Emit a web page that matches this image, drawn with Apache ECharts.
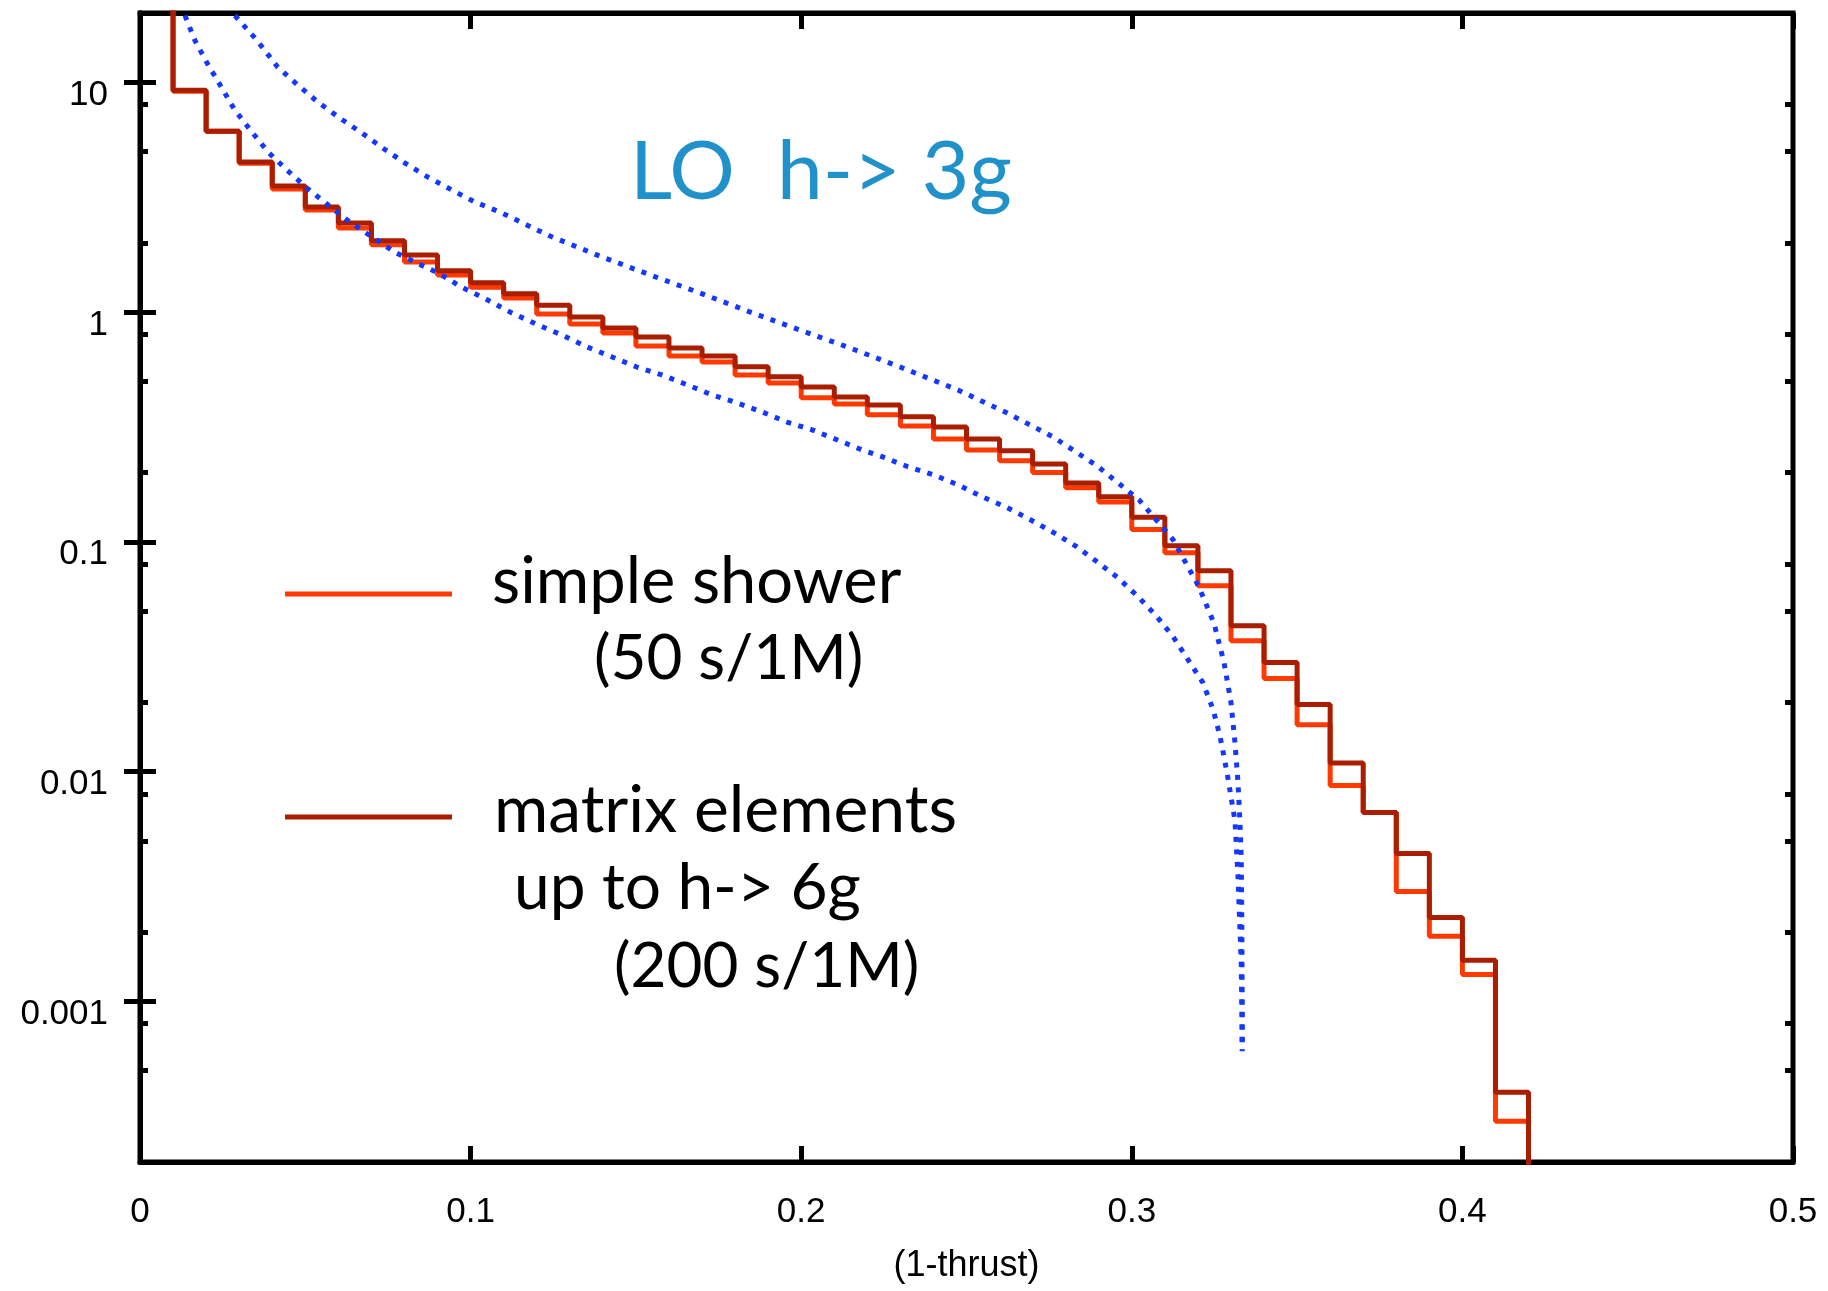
<!DOCTYPE html>
<html>
<head>
<meta charset="utf-8">
<script src="https://cdn.jsdelivr.net/npm/echarts@6/dist/echarts.min.js"></script>
<style>
html, body { margin: 0; padding: 0; background: #fff; }
#chart { width: 1828px; height: 1291px; }
</style>
</head>
<body>
<div id="chart"></div>
<script>
// histogram bin edges in (1-thrust)
var binEdges = [0.01, 0.02, 0.03, 0.04, 0.05, 0.06, 0.07, 0.08, 0.09, 0.10,
    0.11, 0.12, 0.13, 0.14, 0.15, 0.16, 0.17, 0.18, 0.19, 0.20,
    0.21, 0.22, 0.23, 0.24, 0.25, 0.26, 0.27, 0.28, 0.29, 0.30,
    0.31, 0.32, 0.33, 0.34, 0.35, 0.36, 0.37, 0.38, 0.39, 0.40,
    0.41, 0.42];

// simple shower (50 s/1M)
var showerValues = [9.14, 6.12, 4.44, 3.43, 2.78, 2.32, 1.96, 1.65, 1.45, 1.28,
    1.15, 0.980, 0.887, 0.810, 0.712, 0.644, 0.606, 0.532, 0.491, 0.423,
    0.398, 0.357, 0.319, 0.280, 0.251, 0.225, 0.200, 0.172, 0.149, 0.113,
    0.0896, 0.0644, 0.0371, 0.0254, 0.0160, 0.00869, 0.00663, 0.00301, 0.00192, 0.00131,
    0.000301];

// matrix elements up to h-> 6g (200 s/1M)
var matrixValues = [9.23, 6.12, 4.49, 3.53, 2.86, 2.44, 2.04, 1.77, 1.51, 1.34,
    1.20, 1.07, 0.951, 0.852, 0.779, 0.697, 0.644, 0.577, 0.522, 0.472,
    0.427, 0.394, 0.350, 0.316, 0.280, 0.249, 0.218, 0.180, 0.157, 0.128,
    0.0961, 0.0748, 0.0431, 0.0298, 0.0196, 0.0109, 0.00663, 0.00440, 0.00232, 0.00151,
    0.000402];

// LO h-> 3g curves (blue dotted)
var upperCurve = [[0.0287, 19.5], [0.0354, 15.2], [0.0417, 11.6], [0.0478, 9.70], [0.0538, 8.19],
    [0.0605, 6.97], [0.0672, 6.00], [0.0735, 5.16], [0.0802, 4.44], [0.0871, 3.86],
    [0.0944, 3.39], [0.1013, 3.01], [0.1089, 2.72], [0.1240, 2.14], [0.1391, 1.75],
    [0.1543, 1.45], [0.1694, 1.21], [0.1845, 1.00], [0.1996, 0.835], [0.2148, 0.697],
    [0.2299, 0.576], [0.2474, 0.458], [0.2622, 0.364], [0.2762, 0.286], [0.2895, 0.214],
    [0.3022, 0.152], [0.3125, 0.102], [0.3203, 0.0637], [0.3249, 0.0440], [0.3279, 0.0298],
    [0.3300, 0.0200], [0.3312, 0.0134], [0.3321, 0.00905], [0.3327, 0.00612], [0.3331, 0.00427],
    [0.3333, 0.00208], [0.3334, 0.000887], [0.3334, 0.000607]];

var lowerCurve = [[0.0136, 19.5], [0.0166, 15.2], [0.0206, 11.9], [0.0248, 9.42], [0.0287, 7.55],
    [0.0339, 6.06], [0.0387, 4.97], [0.0445, 4.14], [0.0505, 3.46], [0.0569, 2.92],
    [0.0635, 2.46], [0.0702, 2.12], [0.0771, 1.82], [0.0838, 1.63], [0.0901, 1.48],
    [0.0974, 1.28], [0.1050, 1.13], [0.1125, 0.990], [0.1204, 0.878], [0.1276, 0.794],
    [0.1352, 0.705], [0.1428, 0.637], [0.1503, 0.576], [0.1579, 0.532], [0.1655, 0.482],
    [0.1730, 0.436], [0.1806, 0.402], [0.1882, 0.367], [0.1957, 0.332], [0.2033, 0.307],
    [0.2108, 0.278], [0.2184, 0.251], [0.2247, 0.234], [0.2323, 0.212], [0.2399, 0.196],
    [0.2474, 0.177], [0.2547, 0.157], [0.2622, 0.141], [0.2692, 0.125], [0.2762, 0.110],
    [0.2834, 0.0951], [0.2895, 0.0818], [0.2958, 0.0697], [0.3019, 0.0577], [0.3076, 0.0472],
    [0.3125, 0.0386], [0.3170, 0.0307], [0.3215, 0.0244], [0.3246, 0.0186], [0.3267, 0.0142],
    [0.3288, 0.00990], [0.3312, 0.00612], [0.3321, 0.00356], [0.3327, 0.00208], [0.3331, 0.00146],
    [0.3333, 0.00090], [0.3334, 0.00061]];

// axis ranges and ticks
var xMin = 0, xMax = 0.5, xStep = 0.1;
var yMin = 0.0002, yMax = 20;
var yMajorTicks = [0.001, 0.01, 0.1, 1, 10];
var yMinorTicks = [0.0005, 0.0008, 0.002, 0.005, 0.008, 0.02, 0.05, 0.08,
    0.2, 0.5, 0.8, 2, 5, 8];

var showerColor = '#ff3a00';
var matrixColor = '#a91d00';
var curveColor = '#1438ff';

// step outline: vertical from above the frame, the bins, then down past the frame
function histPoints(values) {
    var n = values.length;
    var pts = [[binEdges[0], 1e4]];
    for (var i = 0; i < n; i++) {
        pts.push([binEdges[i], values[i]]);
    }
    pts.push([binEdges[n], values[n - 1]]);
    pts.push([binEdges[n], 1e-6]);
    return pts;
}

var chart = echarts.init(document.getElementById('chart'));

var axisFont = 'Liberation Sans';

function xAxisDef(pos, withLabels) {
    var a = {
        type: 'value',
        min: xMin,
        max: xMax,
        interval: xStep,
        position: pos,
        axisLine: { show: true, lineStyle: { color: '#000', width: 5 } },
        axisTick: { show: true, inside: true, length: 16, lineStyle: { color: '#000', width: 5 } },
        splitLine: { show: false },
        axisLabel: { show: withLabels, color: '#000', fontFamily: axisFont, fontSize: 35, margin: 33 }
    };
    if (withLabels) {
        a.name = '(1-thrust)';
        a.nameLocation = 'middle';
        a.nameGap = 86;
        a.nameTextStyle = { color: '#000', fontFamily: axisFont, fontSize: 36 };
    }
    return a;
}

function yAxisDef(pos, ticks, tickLen, withLabels, withLine) {
    return {
        type: 'log',
        logBase: 10,
        min: yMin,
        max: yMax,
        position: pos,
        axisLine: { show: withLine, lineStyle: { color: '#000', width: 5 } },
        axisTick: { show: true, inside: true, length: tickLen, customValues: ticks,
            lineStyle: { color: '#000', width: 5 } },
        splitLine: { show: false },
        axisLabel: {
            show: withLabels,
            customValues: ticks,
            color: '#000', fontFamily: axisFont, fontSize: 35, margin: 32,
            verticalAlign: 'top', lineHeight: 26,
            formatter: function (v) { return String(+v.toPrecision(3)); }
        }
    };
}

var option = {
    animation: false,
    backgroundColor: '#fff',
    grid: {
        left: 140,
        right: 35,
        top: 13,
        bottom: 129,
        show: true,
        borderColor: '#000',
        borderWidth: 5,
        backgroundColor: 'transparent',
        outerBoundsMode: 'none'
    },
    xAxis: [xAxisDef('bottom', true), xAxisDef('top', false)],
    yAxis: [
        yAxisDef('left', yMajorTicks, 16, true, true),
        yAxisDef('right', yMajorTicks, 16, false, true),
        yAxisDef('left', yMinorTicks, 8, false, false),
        yAxisDef('right', yMinorTicks, 8, false, false)
    ],
    series: [
        {
            name: 'simple shower',
            type: 'line',
            step: 'end',
            symbol: 'none',
            data: histPoints(showerValues),
            lineStyle: { color: showerColor, width: 5 },
            z: 2
        },
        {
            name: 'matrix elements',
            type: 'line',
            step: 'end',
            symbol: 'none',
            data: histPoints(matrixValues),
            lineStyle: { color: matrixColor, width: 5 },
            z: 3
        },
        {
            name: 'LO upper',
            type: 'line',
            symbol: 'none',
            data: upperCurve,
            lineStyle: { color: curveColor, width: 5, type: [5, 7.5], cap: 'butt' },
            z: 4
        },
        {
            name: 'LO lower',
            type: 'line',
            symbol: 'none',
            data: lowerCurve,
            lineStyle: { color: curveColor, width: 5, type: [5, 7.5], cap: 'butt' },
            z: 4
        }
    ],
    graphic: [
        {
            type: 'text',
            style: { text: 'LO  h-> 3g', x: 630, y: 173, font: '82px Lato', fill: '#2191c9',
                textVerticalAlign: 'middle', verticalAlign: 'middle' }
        },
        {
            type: 'line',
            shape: { x1: 285, y1: 594, x2: 452, y2: 594 },
            style: { stroke: showerColor, lineWidth: 5 }
        },
        {
            type: 'line',
            shape: { x1: 285, y1: 817, x2: 452, y2: 817 },
            style: { stroke: matrixColor, lineWidth: 5 }
        },
        {
            type: 'text',
            style: { text: 'simple shower', x: 492, y: 582, font: '65px Lato', fill: '#000',
                textVerticalAlign: 'middle', verticalAlign: 'middle' }
        },
        {
            type: 'text',
            style: { text: '(50 s/1M)', x: 594, y: 659, font: '62px Lato', fill: '#000',
                textVerticalAlign: 'middle', verticalAlign: 'middle' }
        },
        {
            type: 'text',
            style: { text: 'matrix elements', x: 494, y: 811, font: '66px Lato', fill: '#000',
                textVerticalAlign: 'middle', verticalAlign: 'middle' }
        },
        {
            type: 'text',
            style: { text: 'up to h-> 6g', x: 514, y: 888, font: '64px Lato', fill: '#000',
                textVerticalAlign: 'middle', verticalAlign: 'middle' }
        },
        {
            type: 'text',
            style: { text: '(200 s/1M)', x: 614, y: 967, font: '62px Lato', fill: '#000',
                textVerticalAlign: 'middle', verticalAlign: 'middle' }
        }
    ]
};

chart.setOption(option);
</script>
</body>
</html>
